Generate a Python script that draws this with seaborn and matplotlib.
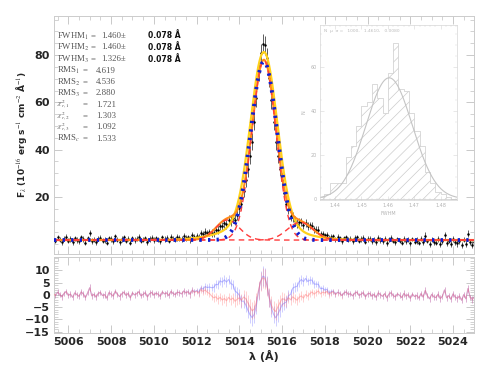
import numpy as np
import matplotlib
matplotlib.use("Agg")
import matplotlib.pyplot as plt
import seaborn as sns
from matplotlib.ticker import MultipleLocator, FixedLocator

# ---------------- data ----------------
wave_start = 5005.3
wave_step = 0.1
n_pix = 198
wavelength = np.round(wave_start + wave_step * np.arange(n_pix), 2)

# residuals of the 3-component fit (red curve of lower panel)
resid_fit3 = [
    0.5, -0.3, 1.1, 0.2, -0.8, 0.6, 1.4, -0.2, 0.3, -1.0,
    0.8, 0.1, -0.6, 1.2, 0.4, -1.1, 0.7, 2.9, -0.4, 0.2,
    -0.9, 0.6, 1.0, -0.3, 0.1, -1.3, 0.9, 0.3, -0.5, 1.5,
    0.2, -0.7, 0.4, 1.1, -0.2, 0.6, -1.2, 0.8, 0.0, 0.5,
    1.3, -0.4, 0.2, 0.9, -0.8, 0.5, 1.0, -0.1, 0.7, 0.3,
    -0.6, 1.2, 0.4, 0.8, -0.3, 1.4, 0.6, 0.1, 1.1, 0.9,
    0.4, 1.6, 0.8, 1.3, 0.2, 1.9, 1.0, 1.5, 0.7, 2.2,
    1.4, 2.0, 1.1, 0.6, -0.4, -1.2, -0.8, -1.8, -1.0, -2.1,
    -1.5, -2.4, -1.0, -2.0, -1.3, -2.6, -1.8, -1.2, -2.2, -0.9,
    -1.5, -3.2, -5.0, -6.5, -5.8, -3.0, 2.0, 5.5, 7.0, 6.5,
    3.5, -1.0, -4.2, -6.0, -6.8, -5.0, -3.2, -1.6, -1.8, -2.4,
    -1.2, -2.0, -0.8, -1.5, -2.2, -1.0, -0.4, -1.3, 0.2, -0.6,
    0.5, 1.2, 0.3, 1.0, 1.6, 0.4, 1.1, 0.8, 1.4, 0.2,
    0.9, 1.3, 0.1, 1.0, 0.6, -0.3, 0.8, 1.2, 0.2, 0.5,
    -0.4, 0.7, 1.1, -0.2, 0.3, 0.9, -0.8, 0.4, 0.6, -0.5,
    0.2, -1.0, 0.8, 0.1, -0.6, 0.5, -1.2, 0.3, 0.9, -0.3,
    -0.8, 0.4, -0.2, -1.1, 0.6, -0.5, 0.1, -1.4, 0.3, -0.7,
    -0.2, -1.3, 0.5, -0.9, 1.8, -0.4, -1.6, 0.2, -0.8, -1.1,
    0.3, -1.5, -0.6, 2.0, -1.2, -0.3, -1.8, 0.4, -0.9, -1.4,
    -0.5, -2.2, 0.1, -1.6, 2.6, -1.0, -1.9, -0.7,
]

flux_err = [
    1.1, 0.9, 1.2, 1.0, 1.3, 0.9, 1.1, 1.0, 1.2, 0.9,
    1.0, 1.2, 0.9, 1.1, 1.3, 1.0, 0.9, 1.4, 1.1, 1.0,
    1.2, 0.9, 1.0, 1.1, 1.3, 0.9, 1.0, 1.2, 1.1, 0.9,
    1.0, 1.3, 1.1, 0.9, 1.2, 1.0, 1.1, 0.9, 1.3, 1.0,
    1.1, 1.0, 1.2, 0.9, 1.1, 1.3, 1.0, 1.2, 0.9, 1.1,
    1.2, 1.0, 1.1, 1.3, 0.9, 1.2, 1.0, 1.1, 1.3, 1.2,
    1.1, 1.3, 1.2, 1.0, 1.4, 1.2, 1.3, 1.1, 1.4, 1.3,
    1.4, 1.5, 1.3, 1.6, 1.5, 1.7, 1.6, 1.8, 1.7, 1.9,
    1.8, 2.0, 1.9, 2.1, 2.0, 2.2, 2.3, 2.4, 2.6, 2.8,
    3.0, 3.2, 3.4, 3.5, 3.6, 3.7, 3.8, 3.9, 4.0, 4.0,
    3.9, 3.8, 3.6, 3.5, 3.4, 3.2, 3.0, 2.8, 2.6, 2.4,
    2.3, 2.2, 2.1, 2.0, 1.9, 1.9, 1.8, 1.7, 1.6, 1.6,
    1.5, 1.4, 1.5, 1.3, 1.4, 1.2, 1.3, 1.2, 1.1, 1.3,
    1.2, 1.0, 1.1, 1.3, 0.9, 1.2, 1.0, 1.1, 1.2, 1.0,
    1.1, 1.3, 0.9, 1.0, 1.2, 1.1, 1.0, 1.3, 0.9, 1.2,
    1.0, 1.1, 1.3, 1.2, 0.9, 1.0, 1.2, 1.1, 1.3, 1.0,
    1.1, 0.9, 1.2, 1.0, 1.3, 1.1, 1.0, 1.2, 0.9, 1.1,
    1.3, 1.0, 1.1, 1.2, 1.4, 1.0, 1.3, 1.1, 1.2, 1.0,
    1.2, 1.3, 1.1, 1.4, 1.2, 1.0, 1.3, 1.1, 1.2, 1.4,
    1.1, 1.3, 1.0, 1.2, 1.5, 1.1, 1.3, 1.2,
]

continuum = 1.8
# fit 1: single Gaussian
fit1_amps, fit1_centers, fit1_fwhms = [75.5], [5015.15], [1.460]
# fit 2: narrow + broad Gaussian
fit2_amps, fit2_centers, fit2_fwhms = [73.0, 6.5], [5015.15, 5015.0], [1.460, 3.6]
# fit 3: core + two wing components
fit3_amps, fit3_centers, fit3_fwhms = [76.0, 8.5, 7.5], [5015.15, 5013.45, 5016.85], [1.326, 1.30, 1.41]

# inset histogram of FWHM
hist_edges = [1.434, 1.436, 1.438, 1.440, 1.442, 1.444, 1.446, 1.448, 1.450, 1.452,
              1.454, 1.456, 1.458, 1.460, 1.462, 1.464, 1.466, 1.468, 1.470, 1.472,
              1.474, 1.476, 1.478, 1.480, 1.482, 1.484, 1.486]
hist_counts = [1, 2, 7, 7, 7, 19, 24, 33, 42, 44, 52, 46, 39, 57, 71, 50, 49, 39, 31, 24,
               12, 7, 3, 2, 1, 0]
hist_fit_amp, hist_fit_mean, hist_fit_sigma = 55.0, 1.4605, 0.0088

labels_names = ["FWHM$_1$", "FWHM$_2$", "FWHM$_3$", "RMS$_1$", "RMS$_2$", "RMS$_3$",
                r"$\chi^2_{r,1}$", r"$\chi^2_{r,2}$", r"$\chi^2_{r,3}$", "RMS$_c$"]
labels_values = ["1.460\u00b1", "1.460\u00b1", "1.326\u00b1", "4.619", "4.536", "2.880",
                 "1.721", "1.303", "1.092", "1.533"]
labels_errors = ["0.078 \u00c5", "0.078 \u00c5", "0.078 \u00c5"]


def gauss_sum(x, amps, centers, fwhms, cont):
    y = np.full_like(x, cont, dtype=float)
    for a, c, f in zip(amps, centers, fwhms):
        s = f / (2 * np.sqrt(2 * np.log(2)))
        y = y + a * np.exp(-0.5 * ((x - c) / s) ** 2)
    return y


resid_fit3 = np.array(resid_fit3)
flux_err = np.array(flux_err)
flux = gauss_sum(wavelength, fit3_amps, fit3_centers, fit3_fwhms, continuum) + resid_fit3
resid_fit1 = flux - gauss_sum(wavelength, fit1_amps, fit1_centers, fit1_fwhms, continuum)

# ---------------- figure ----------------
sns.set_theme(style="ticks")
plt.rcParams["font.family"] = ["DejaVu Sans"]
plt.rcParams["mathtext.fontset"] = "stix"
plt.rcParams["hatch.linewidth"] = 0.5

W, H = 490, 368
fig = plt.figure(figsize=(4.9, 3.68), dpi=100)


def fx(px):
    return px / W


def fy(py):
    return 1 - py / H


ax = fig.add_axes([fx(54), fy(254), fx(474) - fx(54), fy(16) - fy(254)])
axr = fig.add_axes([fx(54), fy(333), fx(474) - fx(54), fy(257) - fy(333)], sharex=ax)

xmin, xmax = 5005.33, 5024.98
xf = np.linspace(xmin, xmax, 2500)

ax.errorbar(wavelength, flux, yerr=flux_err, fmt=".", ms=1.6, color="black",
            ecolor="#444444", elinewidth=0.6, capsize=0, zorder=2)
sns.lineplot(x=xf, y=gauss_sum(xf, fit2_amps, fit2_centers, fit2_fwhms, continuum), ax=ax,
             color="#ffd21a", lw=1.6, zorder=3, estimator=None, sort=False)
sns.lineplot(x=xf, y=gauss_sum(xf, fit3_amps, fit3_centers, fit3_fwhms, continuum), ax=ax,
             color="#ff8c1a", lw=1.5, zorder=4, estimator=None, sort=False)
for a, c, f in zip(fit3_amps, fit3_centers, fit3_fwhms):
    sns.lineplot(x=xf, y=gauss_sum(xf, [a], [c], [f], continuum), ax=ax,
                 color="#ff3b3b", lw=1.0, ls=(0, (4, 3)), zorder=5, estimator=None, sort=False)
sns.lineplot(x=xf, y=gauss_sum(xf, fit1_amps, fit1_centers, fit1_fwhms, continuum), ax=ax,
             color="#1020d0", lw=2.8, ls=(0, (0.6, 1.6)), zorder=6, estimator=None, sort=False)

ax.set_xlim(xmin, xmax)
ax.set_ylim(-4.1, 96.5)
ax.yaxis.set_major_locator(FixedLocator([20, 40, 60, 80]))
ax.yaxis.set_minor_locator(MultipleLocator(5))
ax.xaxis.set_major_locator(MultipleLocator(2))
ax.xaxis.set_minor_locator(MultipleLocator(0.5))
ax.tick_params(labelbottom=False)
ax.set_ylabel("F$_\\lambda$ (10$^{-16}$ erg s$^{-1}$ cm$^{-2}$ \u00c5$^{-1}$)",
              fontsize=6.5, fontweight="bold", labelpad=4)
ax.set_xlabel("")

# residuals
axr.errorbar(wavelength, resid_fit1, yerr=flux_err, color="#6c6cff", alpha=0.45,
             lw=0.8, elinewidth=0.5, capsize=0, zorder=2)
axr.errorbar(wavelength, resid_fit3, yerr=flux_err, color="#ff7070", alpha=0.45,
             lw=0.8, elinewidth=0.5, capsize=0, zorder=3)
axr.set_ylim(-15.6, 15.5)
axr.yaxis.set_major_locator(FixedLocator([-15, -10, -5, 0, 5, 10]))
axr.yaxis.set_minor_locator(MultipleLocator(1))
axr.set_xlabel("\u03bb (\u00c5)", fontsize=8, fontweight="bold", labelpad=2)

for a in (ax, axr):
    a.tick_params(which="both", direction="in", top=True, right=True, color="#c0c0c0",
                  labelsize=8, pad=3)
    a.tick_params(which="major", length=6, width=0.6)
    a.tick_params(which="minor", length=3, width=0.5)
    for lab in a.get_xticklabels() + a.get_yticklabels():
        lab.set_fontweight("bold")
    for sp in a.spines.values():
        sp.set_color("#cccccc")
        sp.set_linewidth(0.7)

# text block
row_y = [36, 47.3, 59, 70.7, 82, 93.3, 104.6, 116, 127.3, 138.7]
for i, (nm, val) in enumerate(zip(labels_names, labels_values)):
    y = fy(row_y[i])
    eqx = 91 if i < 3 else 83
    valx = 101 if i < 3 else 96
    name_size = 5.3 if 6 <= i <= 8 else 6.3
    fig.text(fx(57), y, nm, fontsize=name_size, family="Liberation Serif", color="#555555",
             va="center")
    fig.text(fx(eqx), y, "=", fontsize=6.3, family="Liberation Serif", color="#555555", va="center")
    fig.text(fx(valx), y, val, fontsize=6.3, family="Liberation Serif", color="#555555", va="center")
    if i < 3:
        fig.text(fx(148), y, labels_errors[i], fontsize=5.5, fontweight="bold",
                 color="#111111", va="center")

# inset histogram
axi = fig.add_axes([fx(320), fy(200), fx(457) - fx(320), fy(25) - fy(200)])
centers = [(hist_edges[i] + hist_edges[i + 1]) / 2 for i in range(len(hist_counts))]
sns.histplot(x=centers, weights=hist_counts, bins=hist_edges, element="step", fill=True,
             ax=axi, color="#c0c0c0", lw=0.6)
for coll in axi.collections:
    coll.set_facecolor("none")
    coll.set_hatch("///")
    coll.set_edgecolor("#cccccc")
    coll.set_linewidth(0.5)
for ln in axi.lines:
    ln.set_color("#c0c0c0")
xh = np.linspace(1.4343, 1.4862, 300)
sns.lineplot(x=xh, y=hist_fit_amp * np.exp(-0.5 * ((xh - hist_fit_mean) / hist_fit_sigma) ** 2),
             ax=axi, color="#c4c4c4", lw=0.8, estimator=None, sort=False)
axi.set_xlim(1.4343, 1.4862)
axi.set_ylim(-0.5, 79)
axi.xaxis.set_major_locator(FixedLocator([1.44, 1.45, 1.46, 1.47, 1.48]))
axi.xaxis.set_minor_locator(MultipleLocator(0.002))
axi.yaxis.set_major_locator(FixedLocator([0, 20, 40, 60]))
axi.yaxis.set_minor_locator(MultipleLocator(5))
axi.set_xticklabels(["1.44", "1.45", "1.46", "1.47", "1.48"])
axi.tick_params(which="both", direction="in", top=True, right=True, color="#d6d6d6",
                labelsize=3.5, labelcolor="#b4b4b4", pad=2)
axi.tick_params(which="major", length=3, width=0.4)
axi.tick_params(which="minor", length=1.5, width=0.3)
axi.set_xlabel("FWHM", fontsize=3.5, color="#b4b4b4", labelpad=2)
axi.set_ylabel("N", fontsize=3.5, color="#b4b4b4", labelpad=3)
axi.set_facecolor("white")
for sp in axi.spines.values():
    sp.set_color("#d6d6d6")
    sp.set_linewidth(0.5)
axi.text(0.03, 0.975, "N  \u03bc  \u03c3 =   1000,   1.4610,   0.0080", transform=axi.transAxes,
         fontsize=3.2, color="#bcbcbc", va="top", ha="left")

fig.savefig("out.png", dpi=100)
